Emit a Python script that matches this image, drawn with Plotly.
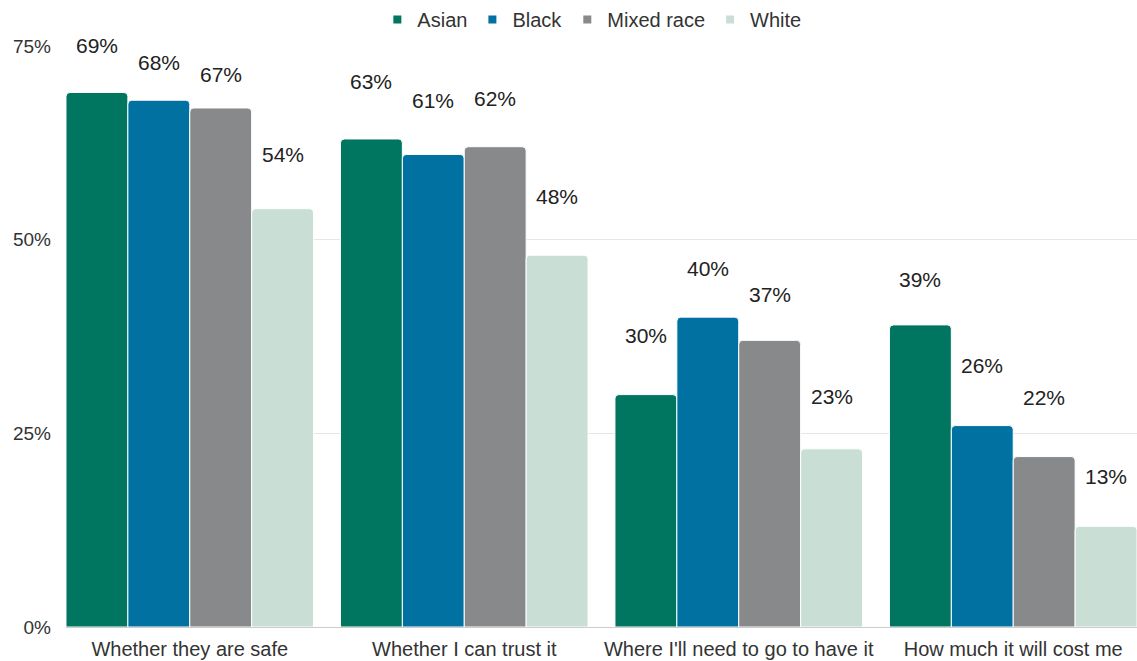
import plotly.graph_objects as go

# Survey: what people want to know about a vaccine, by ethnic group (% of respondents)
categories = [
    "Whether they are safe",
    "Whether I can trust it",
    "Where I'll need to go to have it",
    "How much it will cost me",
]
groups = ["Asian", "Black", "Mixed race", "White"]
asian = [69, 63, 30, 39]
black = [68, 61, 40, 26]
mixed_race = [67, 62, 37, 22]
white = [54, 48, 23, 13]
series = [asian, black, mixed_race, white]
y_ticks = [0, 25, 50, 75]

colors = ["#007661", "#0071a1", "#88898b", "#c9dfd5"]
# vertical gap (px) between each bar top and its value label
label_lift = [
    [47, 57, 59, 45],
    [38, 54, 49, 60],
    [33, 48, 46, 59],
    [54, 59, 52, 50],
]

FONT = "Liberation Sans, Arial, sans-serif"
BARGAP = 0.098
n = len(groups)
slot = (1 - BARGAP) / n
xs = list(range(len(categories)))

fig = go.Figure()
for k, (name, vals) in enumerate(zip(groups, series)):
    fig.add_trace(go.Bar(
        x=xs, y=vals, name=name, showlegend=False,
        marker=dict(color=colors[k], line=dict(color="white", width=1)),
        hoverinfo="skip",
    ))
    # legend entry with a small square swatch
    fig.add_trace(go.Scatter(
        x=[None], y=[None], mode="markers", name=name,
        marker=dict(symbol="square", size=8, color=colors[k]),
    ))
    for i, v in enumerate(vals):
        fig.add_annotation(
            x=i + (k - (n - 1) / 2) * slot, y=v, text=f"{v}%",
            showarrow=False, yanchor="middle", yshift=label_lift[k][i],
            font=dict(family=FONT, size=21, color="#222222"),
        )

fig.update_layout(
    width=1137, height=661,
    margin=dict(l=66, r=0, t=46, b=34, autoexpand=False),
    paper_bgcolor="white", plot_bgcolor="white",
    barmode="group", bargap=BARGAP, bargroupgap=0,
    barcornerradius=4,
    font=dict(family=FONT, size=20, color="#333333"),
    legend=dict(
        orientation="h", x=0.491, xanchor="center",
        y=1.0, yref="container", yanchor="top",
        font=dict(family=FONT, size=20, color="#333333"),
        itemwidth=30, tracegroupgap=0,
    ),
    xaxis=dict(
        range=[-0.4509, 3.4509],
        tickmode="array", tickvals=xs, ticktext=categories,
        showgrid=False, zeroline=False, showline=True,
        linecolor="#cccccc", linewidth=1,
        ticklabelstandoff=4,
        tickfont=dict(family=FONT, size=20, color="#333333"),
        fixedrange=True,
    ),
    yaxis=dict(
        range=[0, 75], tickmode="array", tickvals=y_ticks,
        ticktext=[f"{t}%" for t in y_ticks],
        showgrid=True, gridcolor="#e6e6e6", gridwidth=1,
        zeroline=False, showline=False,
        ticklabelstandoff=14,
        tickfont=dict(family=FONT, size=19, color="#333333"),
        fixedrange=True,
    ),
)

fig.write_html("out.html")
